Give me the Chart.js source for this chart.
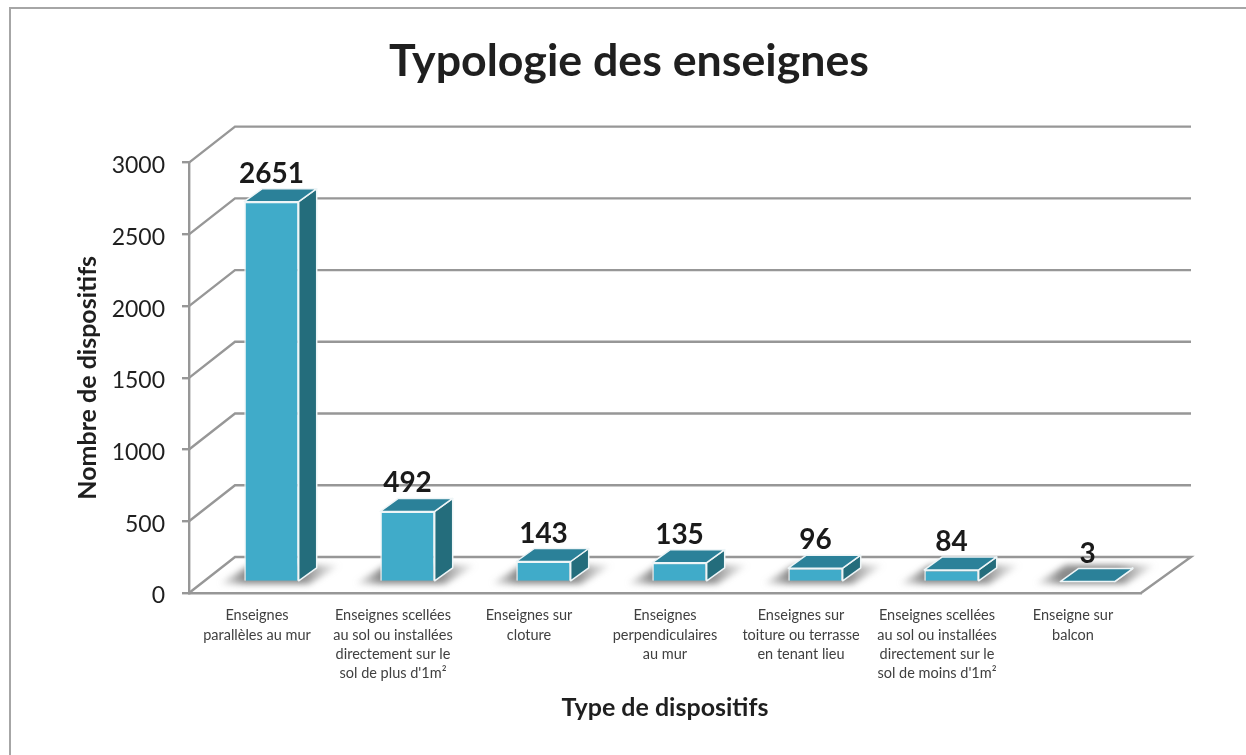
<!DOCTYPE html>
<html>
<head>
<meta charset="utf-8">
<script src="https://cdn.jsdelivr.net/npm/chart.js@4"></script>
<style>
  html, body { margin: 0; padding: 0; background: #fff; }
  #frame { position: absolute; left: 9px; top: 7px; width: 1237px; height: 748px; box-sizing: border-box; border-left: 2px solid #a6a6a6; border-top: 2px solid #a6a6a6; }
  #wrap { position: absolute; left: 0; top: 0; width: 1246px; height: 755px; }
</style>
</head>
<body>
<div id="frame"></div>
<div id="wrap"><canvas id="chart" width="1246" height="755"></canvas></div>
<script>
// ─── data ─────────────────────────────────────────────
const categories = [
  ['Enseignes', 'parallèles au mur'],
  ['Enseignes scellées', 'au sol ou installées', 'directement sur le', 'sol de plus d\'1m²'],
  ['Enseignes sur', 'cloture'],
  ['Enseignes', 'perpendiculaires', 'au mur'],
  ['Enseignes sur', 'toiture ou terrasse', 'en tenant lieu'],
  ['Enseignes scellées', 'au sol ou installées', 'directement sur le', 'sol de moins d\'1m²'],
  ['Enseigne sur', 'balcon'],
];
const counts = [2651, 492, 143, 135, 96, 84, 3];

const FONT = "Lato, Carlito, Calibri, sans-serif";
const GRID = '#979797';
const FRONT = '#40abc9', SIDE = '#246d7c', TOP = '#2b8199';

// fake 3D: offset of the back wall, and of the bars inside the box
const WALL = { dx: 46, dy: -36 };
const BAR = { dx: 14.5, dy: -11 };
const DEPTH = { dx: 18, dy: -13 };

function poly(ctx, pts, fill, stroke) {
  ctx.beginPath();
  pts.forEach((p, i) => i ? ctx.lineTo(p[0], p[1]) : ctx.moveTo(p[0], p[1]));
  ctx.closePath();
  if (fill) { ctx.fillStyle = fill; ctx.fill(); }
  if (stroke) { ctx.strokeStyle = stroke; ctx.lineWidth = 1.5; ctx.stroke(); }
}

// ── walls, floor and bar shadows, under the bars ──────
const wallPlugin = {
  id: 'wall',
  // title is centred on the whole picture, not on the padded area
  afterLayout(chart) {
    chart.titleBlock.left += 24;
    chart.titleBlock.right += 24;
  },
  beforeDatasetsDraw(chart) {
    const { ctx, chartArea: a, scales: { y } } = chart;
    ctx.save();
    ctx.strokeStyle = GRID;
    ctx.lineWidth = 2.4;
    ctx.lineJoin = 'miter';
    y.ticks.forEach(t => {
      const py = y.getPixelForValue(t.value);
      ctx.beginPath();
      ctx.moveTo(a.left, py);
      ctx.lineTo(a.left + WALL.dx, py + WALL.dy);
      ctx.lineTo(a.right + WALL.dx + 4, py + WALL.dy);
      if (t.value === 0) ctx.lineTo(a.right, py);
      ctx.stroke();
    });
    // floor shadows
    const meta = chart.getDatasetMeta(0);
    ctx.filter = 'blur(3px)';
    meta.data.forEach(b => {
      const l = b.x - b.width / 2 + BAR.dx, r = b.x + b.width / 2 + BAR.dx;
      const base = y.getPixelForValue(0) + BAR.dy;
      const g = ctx.createLinearGradient(l - 26, 0, r + 42, 0);
      const w = r + 68 - l;
      g.addColorStop(0, 'rgba(100,100,100,0)');
      g.addColorStop(26 / w, 'rgba(100,100,100,0.75)');
      g.addColorStop((r - l + 30) / w, 'rgba(100,100,100,0.75)');
      g.addColorStop(1, 'rgba(100,100,100,0)');
      poly(ctx, [[l - 26, base + 2], [r + 10, base + 2], [r + 42, base - 17], [l + 6, base - 17]], g);
    });
    ctx.restore();
  },
  // bars get drawn by the library, just shifted into the box
  beforeDatasetDraw(chart) {
    chart.ctx.save();
    chart.ctx.translate(BAR.dx, BAR.dy);
  },
  afterDatasetDraw(chart) {
    const { ctx } = chart;
    ctx.restore();
    ctx.save();
    ctx.lineJoin = 'round';
    chart.getDatasetMeta(0).data.forEach(b => {
      const l = b.x - b.width / 2 + BAR.dx, r = b.x + b.width / 2 + BAR.dx;
      const t = b.y + BAR.dy, bot = b.base + BAR.dy;
      poly(ctx, [[r, t], [r + DEPTH.dx, t + DEPTH.dy], [r + DEPTH.dx, bot + DEPTH.dy], [r, bot]], SIDE, '#eef5f7');
      poly(ctx, [[l, t], [l + DEPTH.dx, t + DEPTH.dy], [r + DEPTH.dx, t + DEPTH.dy], [r, t]], TOP, '#eef5f7');
    });
    // value labels
    ctx.font = 'bold 28px ' + FONT;
    ctx.fillStyle = '#1a1a1a';
    ctx.textAlign = 'center';
    ctx.textBaseline = 'middle';
    chart.getDatasetMeta(0).data.forEach((b, i) => {
      ctx.fillText(String(counts[i]), b.x + BAR.dx, b.y + BAR.dy - 28);
    });
    ctx.restore();
  },
};

new Chart(document.getElementById('chart').getContext('2d'), {
  type: 'bar',
  data: {
    labels: categories,
    datasets: [{
      data: counts,
      backgroundColor: FRONT,
      borderColor: '#eef5f7',
      borderWidth: 1.5,
      barPercentage: 0.4,
      categoryPercentage: 1,
      clip: false,
    }],
  },
  plugins: [wallPlugin],
  options: {
    responsive: false,
    animation: false,
    layout: { padding: { left: 69, right: 105, top: 0, bottom: 28 } },
    plugins: {
      legend: { display: false },
      tooltip: { enabled: false },
      title: {
        display: true,
        text: 'Typologie des enseignes',
        color: '#1f1f1f',
        font: { family: FONT, size: 44.7, weight: 'bold' },
        padding: { top: 35, bottom: 74 },
      },
    },
    scales: {
      x: {
        afterFit: s => { s.height = 134; },
        grid: { display: false },
        border: { color: GRID, width: 2.4 },
        ticks: {
          color: '#404040', maxRotation: 0, autoSkip: false, padding: 5,
          font: { family: FONT, size: 14.5, lineHeight: 1.33 },
        },
        title: {
          display: true, text: 'Type de dispositifs', color: '#1f1f1f',
          font: { family: FONT, size: 25, weight: 'bold' },
        },
      },
      y: {
        min: 0, max: 3000,
        afterFit: s => { s.width = 120; },
        grid: { drawOnChartArea: false, color: GRID, lineWidth: 2.4, tickLength: 7 },
        border: { color: GRID, width: 2.4 },
        ticks: {
          stepSize: 500, color: '#1f1f1f', padding: 17, labelOffset: 3,
          callback: v => String(v),
          font: { family: FONT, size: 23 },
        },
        title: {
          display: true, text: 'Nombre de dispositifs', color: '#1f1f1f',
          font: { family: FONT, size: 25, weight: 'bold' },
        },
      },
    },
  },
});
</script>
</body>
</html>
